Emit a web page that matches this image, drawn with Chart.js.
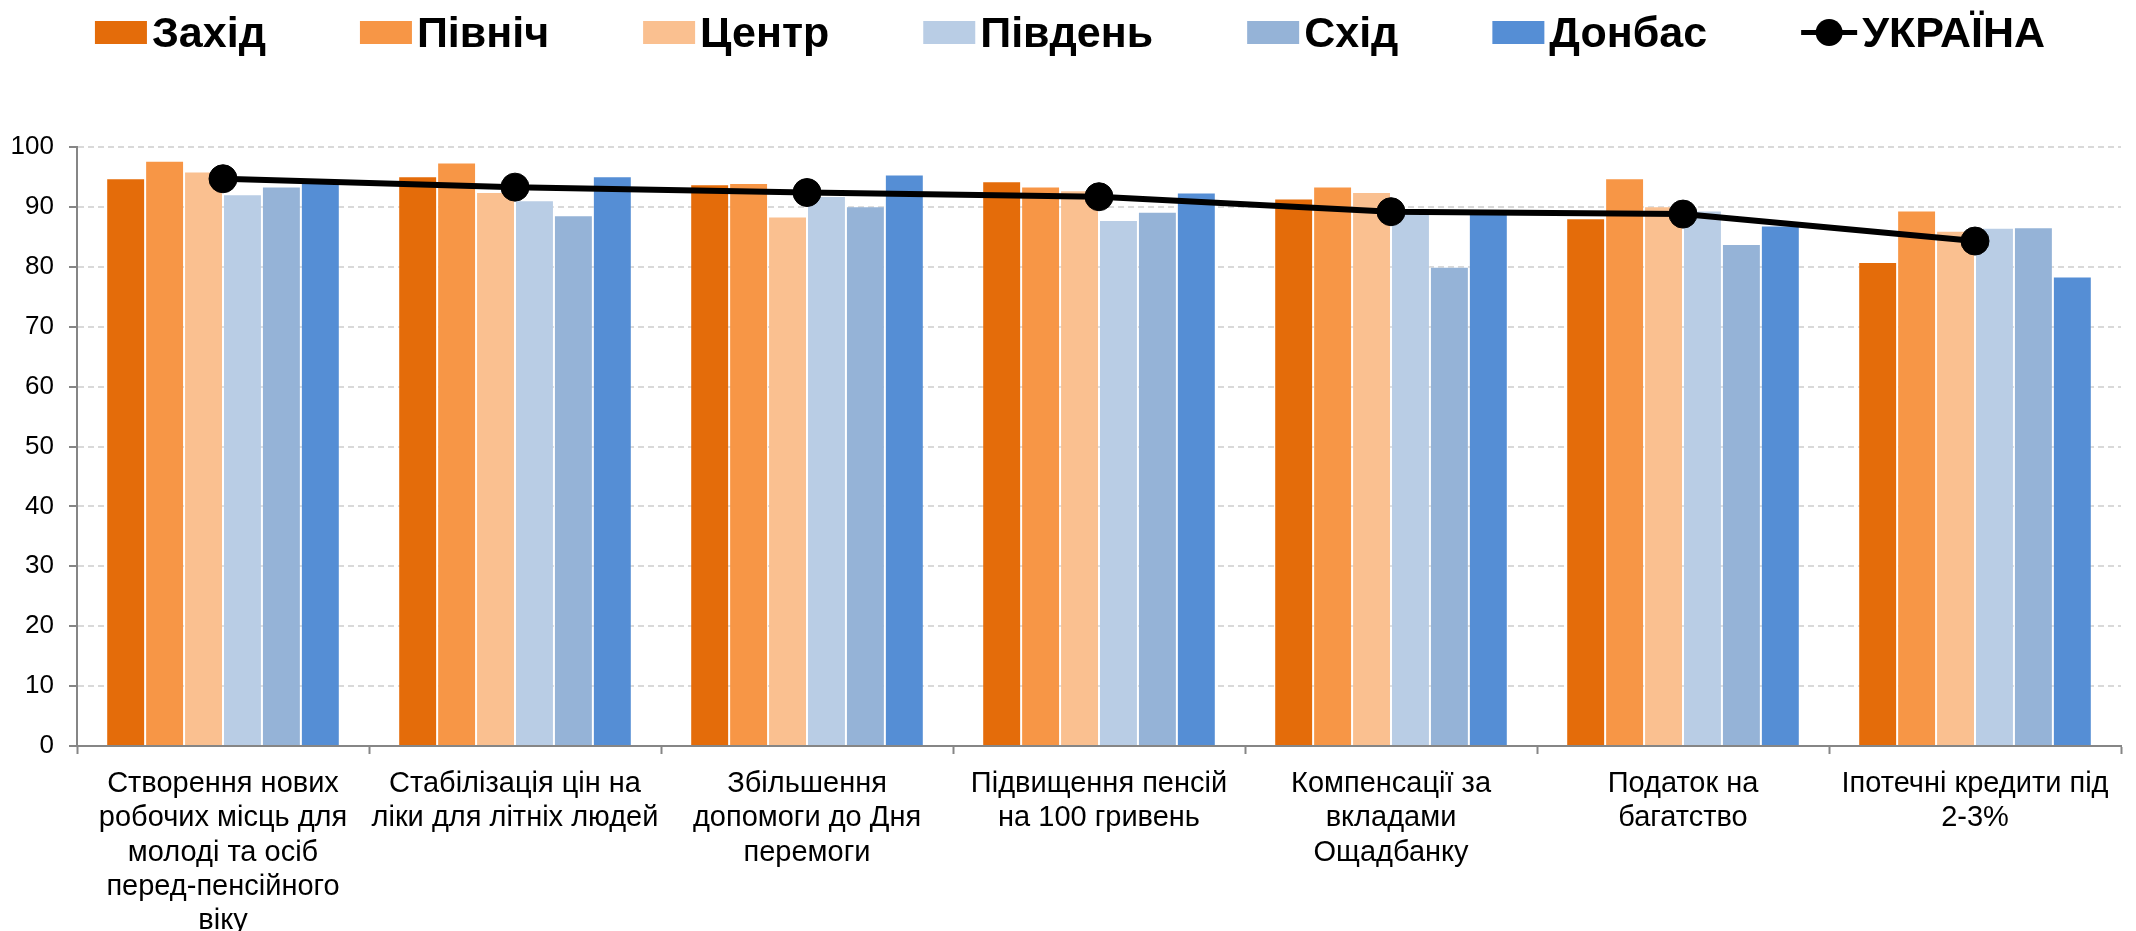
<!DOCTYPE html>
<html>
<head>
<meta charset="utf-8">
<script src="https://cdn.jsdelivr.net/npm/chart.js@4.4.1/dist/chart.umd.min.js"></script>
<style>
  html, body { margin: 0; padding: 0; background: #ffffff; overflow: hidden; }
  #wrap { width: 2136px; height: 931px; position: relative; }
</style>
</head>
<body>
<div id="wrap"><canvas id="c" width="2136" height="931"></canvas></div>
<script>
// ---- data ----
const categories = [
  ["Створення нових", "робочих місць для", "молоді та осіб", "перед-пенсійного", "віку"],
  ["Стабілізація цін на", "ліки для літніх людей"],
  ["Збільшення", "допомоги до Дня", "перемоги"],
  ["Підвищення пенсій", "на 100 гривень"],
  ["Компенсації за", "вкладами", "Ощадбанку"],
  ["Податок на", "багатство"],
  ["Іпотечні кредити під", "2-3%"]
];
const seriesNames = ["Захід", "Північ", "Центр", "Південь", "Схід", "Донбас", "УКРАЇНА"];
const zakhid  = [94.8, 95.1, 93.8, 94.3, 91.4, 88.1, 80.8];
const pivnich = [97.7, 97.4, 94.0, 93.4, 93.4, 94.8, 89.4];
const tsentr  = [95.9, 92.5, 88.4, 92.8, 92.5, 90.1, 86.0];
const pivden  = [92.1, 91.1, 91.8, 87.8, 89.3, 89.4, 86.5];
const skhid   = [93.4, 88.6, 90.1, 89.2, 80.0, 83.8, 86.6];
const donbas  = [94.3, 95.1, 95.4, 92.4, 89.0, 86.9, 78.4];
const ukraina = [94.7, 93.3, 92.4, 91.7, 89.2, 88.8, 84.3];
const yTicks = [0, 10, 20, 30, 40, 50, 60, 70, 80, 90, 100];

const colors = ["#E46C0A", "#F79646", "#FAC090", "#B9CDE5", "#95B3D7", "#558ED5"];
const FONT = '"Liberation Sans", Arial, sans-serif';
Chart.defaults.font.family = FONT;

const barSeries = [zakhid, pivnich, tsentr, pivden, skhid, donbas];
const datasets = barSeries.map((vals, i) => ({
  type: 'bar',
  label: seriesNames[i],
  data: vals,
  backgroundColor: colors[i],
  borderColor: 'rgba(255,255,255,0.25)',
  borderWidth: 1,
  order: 1,
  categoryPercentage: 0.8,
  barPercentage: 1.0
}));
datasets.push({
  type: 'line',
  label: seriesNames[6],
  data: ukraina,
  borderColor: '#000000',
  backgroundColor: '#000000',
  borderWidth: 6,
  pointRadius: 14,
  pointBackgroundColor: '#000000',
  pointBorderColor: '#000000',
  pointBorderWidth: 1,
  tension: 0,
  order: 0
});

// custom legend drawn to match reference spacing
const refLegend = {
  id: 'refLegend',
  afterDraw(chart) {
    const ctx = chart.ctx;
    ctx.save();
    ctx.font = 'bold 43px ' + FONT;
    const boxW = 52, boxH = 23, gap = 5, sep = 94, lineW = 56;
    const boxTop = 21, baseY = 47, midY = 32.5;
    const items = chart.data.datasets.map(ds => ({
      label: ds.label,
      isLine: ds.type === 'line',
      color: ds.type === 'line' ? ds.borderColor : ds.backgroundColor
    }));
    let total = 0;
    items.forEach((it, i) => {
      it.tw = ctx.measureText(it.label).width;
      it.w = (it.isLine ? lineW : boxW) + gap + it.tw;
      total += it.w + (i ? sep : 0);
    });
    let x = chart.width / 2 - total / 2 + 2;
    items.forEach(it => {
      if (it.isLine) {
        ctx.strokeStyle = it.color;
        ctx.lineWidth = 5;
        ctx.beginPath();
        ctx.moveTo(x, midY);
        ctx.lineTo(x + lineW, midY);
        ctx.stroke();
        ctx.fillStyle = it.color;
        ctx.beginPath();
        ctx.arc(x + lineW / 2, midY, 13.5, 0, Math.PI * 2);
        ctx.fill();
        x += lineW + gap;
      } else {
        ctx.fillStyle = it.color;
        ctx.fillRect(x, boxTop, boxW, boxH);
        x += boxW + gap;
      }
      ctx.fillStyle = '#000000';
      ctx.textBaseline = 'alphabetic';
      ctx.textAlign = 'left';
      ctx.fillText(it.label, x, baseY);
      x += it.tw + sep;
    });
    ctx.restore();
  }
};

new Chart(document.getElementById('c'), {
  type: 'bar',
  data: { labels: categories, datasets: datasets },
  plugins: [refLegend],
  options: {
    responsive: false,
    animation: false,
    devicePixelRatio: 1,
    layout: { padding: { top: 147, right: 14, left: 0, bottom: 0 } },
    plugins: {
      legend: { display: false },
      tooltip: { enabled: false },
      title: { display: false }
    },
    scales: {
      x: {
        offset: true,
        grid: {
          display: true,
          offset: true,
          drawOnChartArea: false,
          drawTicks: true,
          tickLength: 8,
          tickColor: '#868686',
          tickWidth: 2
        },
        border: { display: true, color: '#868686', width: 2 },
        ticks: {
          color: '#000000',
          font: { size: 29, lineHeight: 1.18 },
          padding: 13,
          maxRotation: 0,
          minRotation: 0,
          autoSkip: false
        },
        afterFit(scale) { scale.height = 185; }
      },
      y: {
        min: yTicks[0],
        max: yTicks[yTicks.length - 1],
        afterBuildTicks(scale) { scale.ticks = yTicks.map(v => ({ value: v })); },
        grid: {
          color: '#d9d9d9',
          lineWidth: 2,
          drawTicks: true,
          tickLength: 8,
          tickColor: '#868686',
          tickWidth: 2
        },
        border: { display: true, color: '#868686', width: 2, dash: [6, 4] },
        ticks: {
          color: '#000000',
          font: { size: 26 },
          padding: 15
        },
        afterFit(scale) { scale.width = 77; }
      }
    }
  }
});
</script>
</body>
</html>
